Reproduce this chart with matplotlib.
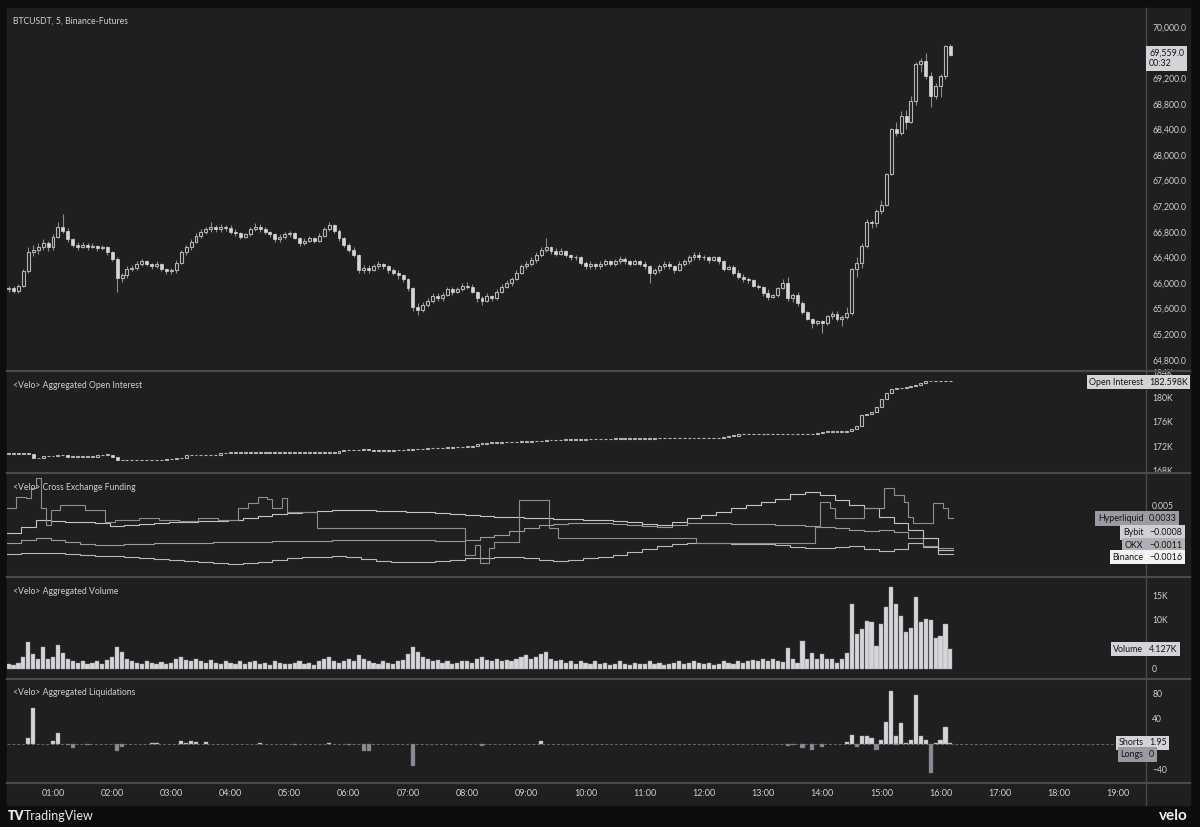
import matplotlib.pyplot as plt
import matplotlib.patches as mpatches
import numpy as np

# 5 minute bars, 00:15 -> 16:10
close = [65920, 65880, 65960, 66180, 66480, 66520, 66560, 66620, 66560,
         66720, 66880, 66820, 66680, 66600, 66560, 66600, 66560, 66580, 66540, 66560, 66480,
         66380, 66080, 66120, 66220, 66240, 66300, 66340, 66300, 66260, 66300, 66220, 66180,
         66200, 66320, 66480, 66560, 66640, 66740, 66800, 66840, 66880, 66840, 66880, 66860,
         66800, 66780, 66720, 66760, 66840, 66880, 66840, 66800, 66760, 66680, 66720, 66760,
         66780, 66700, 66620, 66660, 66700, 66660, 66740, 66840, 66900, 66820, 66700, 66600,
         66520, 66440, 66200, 66240, 66200, 66260, 66300, 66260, 66200, 66160, 66120, 66060,
         65920, 65620, 65580, 65660, 65720, 65800, 65760, 65820, 65900, 65860, 65900, 65960,
         65940, 65860, 65760, 65720, 65800, 65760, 65860, 65940, 66000, 66060, 66160, 66260,
         66300, 66360, 66440, 66520, 66560, 66500, 66460, 66500, 66440, 66400, 66400, 66320,
         66260, 66300, 66260, 66300, 66340, 66300, 66340, 66380, 66340, 66300, 66340, 66300,
         66260, 66160, 66200, 66260, 66300, 66260, 66200, 66300, 66340, 66400, 66440, 66400,
         66400, 66360, 66400, 66340, 66220, 66250, 66160, 66100, 66060, 66040, 65958, 65937,
         65840, 65780, 65810, 65920, 66000, 65765, 65810, 65690, 65540, 65440, 65375, 65400,
         65375, 65484, 65515, 65440, 65470, 65530, 66220, 66310, 66580, 66950, 66940, 67120,
         67220, 67700, 68400, 68340, 68610, 68520, 68840, 69420, 69470, 69230, 68920, 69080,
         69230, 69700, 69559]
high = [65960, 65960, 65980, 66220, 66560, 66600, 66620, 66680, 66660,
        66760, 66960, 67080, 66860, 66700, 66640, 66640, 66620, 66620, 66600, 66600, 66580,
        66500, 66400, 66160, 66260, 66280, 66340, 66380, 66360, 66320, 66340, 66320, 66240,
        66240, 66360, 66520, 66600, 66680, 66780, 66840, 66880, 66960, 66900, 66920, 66900,
        66900, 66840, 66800, 66780, 66880, 66940, 66920, 66880, 66820, 66780, 66760, 66800,
        66820, 66800, 66720, 66700, 66740, 66720, 66780, 66880, 66960, 66920, 66840, 66720,
        66620, 66560, 66460, 66280, 66280, 66300, 66340, 66320, 66280, 66240, 66200, 66140,
        66080, 65940, 65680, 65700, 65760, 65840, 65840, 65860, 65940, 65940, 65940, 66000,
        66020, 65980, 65880, 65800, 65840, 65820, 65900, 65980, 66040, 66100, 66200, 66300,
        66340, 66400, 66480, 66560, 66700, 66580, 66540, 66540, 66520, 66460, 66440, 66420,
        66340, 66340, 66320, 66340, 66380, 66360, 66380, 66420, 66400, 66360, 66380, 66360,
        66340, 66280, 66240, 66300, 66340, 66340, 66280, 66340, 66380, 66440, 66480, 66480,
        66440, 66420, 66420, 66420, 66360, 66280, 66280, 66200, 66140, 66100, 66060, 65980,
        65960, 65900, 65830, 65940, 66060, 66100, 65840, 65860, 65720, 65560, 65460, 65420,
        65420, 65500, 65560, 65560, 65500, 65620, 66240, 66400, 66620, 67000, 66990, 67160,
        67300, 67720, 68420, 68520, 68680, 68700, 68920, 69450, 69520, 69590, 69300, 69120,
        69260, 69720, 69730]
low = [65860, 65840, 65840, 65940, 66160, 66420, 66460, 66520, 66500,
       66520, 66700, 66780, 66640, 66560, 66520, 66540, 66520, 66540, 66500, 66520, 66440,
       66340, 65860, 66020, 66080, 66180, 66200, 66260, 66260, 66220, 66240, 66180, 66140,
       66140, 66160, 66300, 66440, 66520, 66620, 66700, 66760, 66800, 66800, 66800, 66820,
       66760, 66740, 66680, 66700, 66740, 66820, 66800, 66760, 66720, 66640, 66640, 66680,
       66720, 66680, 66580, 66600, 66640, 66620, 66640, 66720, 66820, 66780, 66660, 66560,
       66480, 66400, 66160, 66160, 66160, 66180, 66220, 66220, 66160, 66120, 66060, 66020,
       65880, 65560, 65500, 65540, 65620, 65680, 65720, 65720, 65800, 65820, 65840, 65880,
       65900, 65840, 65700, 65660, 65700, 65720, 65740, 65840, 65920, 65960, 66040, 66140,
       66220, 66260, 66320, 66400, 66480, 66460, 66420, 66440, 66400, 66360, 66360, 66280,
       66220, 66220, 66220, 66220, 66260, 66260, 66260, 66300, 66300, 66260, 66280, 66260,
       66220, 66000, 66120, 66160, 66220, 66220, 66160, 66180, 66260, 66300, 66360, 66360,
       66360, 66320, 66340, 66300, 66180, 66200, 66120, 66060, 66020, 66000, 65940, 65900,
       65800, 65740, 65760, 65780, 65900, 65720, 65700, 65640, 65520, 65420, 65300, 65340,
       65224, 65340, 65440, 65400, 65330, 65440, 65500, 66100, 66240, 66540, 66860, 66880,
       67080, 67200, 67680, 68300, 68320, 68400, 68500, 68780, 69300, 69180, 68750, 68880,
       68900, 69180, 69540]
first_open = 65900

# aggregated open interest (K)
oi_close = [170.7, 170.7, 170.75, 170.7, 170.7, 170.1, 170.0, 170.3, 170.3,
            170.4, 170.5, 170.5, 170.25, 170.25, 170.25, 170.25, 170.25, 170.25, 170.5, 170.6, 170.6,
            170.2, 169.7, 169.7, 169.7, 169.7, 169.7, 169.7, 169.7, 169.7, 169.7, 169.7, 169.8,
            169.9, 170.0, 170.0, 170.5, 170.5, 170.5, 170.5, 170.5, 170.5, 170.6, 170.8, 170.9,
            170.9, 170.9, 170.9, 170.9, 170.9, 170.9, 170.9, 170.9, 170.9, 170.9, 170.9, 170.9,
            170.9, 170.9, 170.9, 170.9, 170.9, 170.9, 170.9, 170.9, 170.9, 170.9, 171.2, 171.3,
            171.3, 171.3, 171.3, 171.5, 171.3, 171.25, 171.25, 171.25, 171.25, 171.3, 171.3, 171.4,
            171.4, 171.5, 171.5, 171.5, 171.6, 171.6, 171.6, 171.7, 171.7, 171.8, 171.8, 171.9,
            171.9, 172.0, 172.4, 172.4, 172.5, 172.5, 172.5, 172.6, 172.6, 172.6, 172.7, 172.7,
            172.7, 172.8, 172.8, 172.8, 172.9, 172.9, 172.9, 173.0, 173.0, 173.0, 173.0, 173.0,
            173.1, 173.1, 173.1, 173.1, 173.1, 173.15, 173.15, 173.15, 173.2, 173.2, 173.2, 173.2,
            173.2, 173.2, 173.25, 173.25, 173.25, 173.25, 173.25, 173.25, 173.25, 173.25, 173.25, 173.25,
            173.25, 173.25, 173.25, 173.25, 173.4, 173.7, 173.7, 173.9, 173.9, 173.9, 173.9, 173.9,
            173.9, 173.9, 173.9, 173.9, 173.9, 174.0, 173.9, 173.9, 173.9, 173.9, 173.9, 174.2,
            174.3, 174.3, 174.3, 174.3, 174.3, 174.5, 174.8, 175.3, 177.1, 177.3, 177.6, 178.4,
            179.7, 180.6, 181.3, 181.4, 181.5, 181.6, 181.8, 181.9, 182.3, 182.6, 182.598, 182.598,
            182.598, 182.598, 182.598]
oi_first_open = 170.7

# aggregated volume (K)
volume = [1.0, 0.8, 1.2, 2.5, 5.5, 3.0, 2.0, 4.5, 2.0,
          2.5, 4.8, 3.2, 2.0, 1.5, 1.2, 1.5, 1.0, 1.2, 1.5, 1.0, 1.8,
          2.5, 4.5, 3.5, 2.0, 1.5, 1.2, 1.0, 1.5, 1.2, 1.0, 1.3, 1.0,
          1.2, 2.0, 2.5, 1.8, 1.5, 2.0, 1.5, 1.2, 1.8, 1.2, 1.0, 1.5,
          1.2, 1.0, 1.5, 1.0, 1.3, 1.5, 1.0, 1.2, 0.8, 1.5, 1.2, 1.0,
          1.0, 1.2, 1.5, 1.0, 1.2, 0.8, 1.5, 2.0, 2.5, 1.5, 1.2, 1.5,
          2.0, 1.5, 2.8, 2.0, 1.5, 1.2, 1.0, 1.5, 1.2, 1.0, 1.5, 1.8,
          3.0, 4.5, 3.5, 2.5, 2.0, 1.5, 1.8, 1.2, 1.5, 1.0, 1.2, 1.5,
          1.5, 1.2, 2.0, 2.5, 1.8, 1.5, 2.0, 1.5, 1.8, 1.5, 2.0, 2.5,
          2.8, 2.0, 2.5, 3.0, 3.5, 2.0, 1.5, 1.8, 1.2, 1.5, 1.0, 1.5,
          1.2, 1.0, 1.5, 1.0, 1.2, 0.8, 1.0, 1.5, 1.0, 0.8, 1.2, 1.0,
          1.0, 1.5, 1.0, 1.2, 0.8, 1.0, 1.2, 1.5, 1.0, 1.2, 1.5, 1.2,
          1.0, 1.2, 0.8, 1.0, 1.5, 1.2, 1.0, 1.5, 1.2, 1.5, 1.8, 1.5,
          2.0, 1.5, 2.0, 1.5, 1.31, 4.3, 2.05, 1.23, 5.6, 2.05, 3.15, 2.05,
          3.1, 2.05, 1.9, 1.23, 2.05, 3.15, 13.2, 7.05, 8.07, 9.84, 9.57, 4.7,
          9.2, 12.7, 16.7, 13.2, 10.8, 7.6, 8.4, 14.6, 9.6, 10.1, 10.0, 6.2,
          6.6, 9.1, 4.127]

# aggregated liquidations
short_liq_times = ['00:35', '00:40', '01:00', '01:05', '02:40', '02:45', '03:10', '03:15', '03:20',
                   '03:25', '03:35', '04:30', '05:40', '09:15', '14:25', '14:30', '14:40', '14:45',
                   '14:50', '15:00', '15:05', '15:10', '15:15', '15:20', '15:25', '15:30', '15:35',
                   '15:40', '15:45', '15:55', '16:00', '16:05', '16:10']
short_liq = [9, 56, 4, 18, 1, 2, 5, 1, 5.5, 3, 2.5, 1, 2, 5, 2.5, 14, 12, 13,
             10, 7, 35, 84, 12, 33, 2, 7, 77, 13, 7, 1, 6, 27, 1.95]
long_liq_times = ['01:15', '01:20', '01:35', '02:05', '02:10', '05:05', '06:00', '06:15', '06:20',
                  '07:05', '08:15', '13:25', '13:30', '13:40', '13:50', '14:00', '14:35', '14:55',
                  '15:15', '15:50']
long_liq = [1, 6, 2, 10.6, 5, 1.5, 1.5, 11, 11, 34, 3, 3, 2, 7, 10, 4, 4, 10, 2, 46]

# cross exchange funding (units of 1e-4)
# hyperliquid: value changes (time, new value)
hl_times = ['00:10', '00:25', '00:35', '00:40', '00:45', '00:50', '00:55', '01:00', '01:10', '01:35',
            '01:55', '02:05', '02:30', '02:50', '03:10', '03:30', '03:50', '04:10', '04:20', '04:30',
            '04:40', '04:45', '04:55', '05:00', '05:30', '08:00', '08:10', '08:15', '08:25', '08:30',
            '08:55', '09:25', '09:35', '11:55', '13:55', '14:00', '14:10', '14:15', '14:45', '15:05',
            '15:15', '15:25', '15:30', '15:35', '15:55', '16:05', '16:10']
hl_vals = [47.0, 62.2, 60.9, 74.7, 88.5, 47.0, 23.5, 44.3, 51.2, 44.3,
           27.7, 30.4, 33.2, 30.4, 29.0, 33.2, 30.4, 47.0, 53.9, 62.2,
           59.5, 47.0, 60.9, 41.5, 19.4, -18.0, -4.1, -29.0, -8.3, 0.0,
           58.1, 19.4, 5.5, -1.4, 20.7, 55.3, 47.0, 33.2, 47.0, 74.7,
           65.0, 55.3, 34.6, 26.3, 53.9, 47.0, 33.0]
# the other venues: one value per 15 minutes from 00:15
okx_15m = [12.4, 20.7, 30.4, 29.0, 27.7, 27.7, 26.3, 22.1, 23.5, 24.9, 26.3, 27.7, 27.7, 29.0, 29.0, 30.4,
           33.2, 36.0, 38.7, 40.1, 41.5, 42.9, 44.3, 44.3, 44.3, 42.9, 42.9, 41.5, 41.5, 40.1, 38.7, 37.3,
           36.0, 34.6, 34.6, 33.2, 33.2, 31.8, 31.8, 30.4, 30.4, 29.0, 27.7, 24.9, 23.5, 27.7, 33.2, 37.3,
           41.5, 47.0, 51.2, 55.3, 59.5, 66.4, 69.2, 65.0, 58.1, 51.2, 47.0, 34.6, 26.3, 16.6, 5.5, -11.0]
bybit_15m = [-1.4, 2.8, 5.5, 2.8, 0.0, -2.8, -4.1, -4.1, -2.8, -2.8, -1.4, -1.4, -1.4, -1.4, 0.0, 0.0,
             0.0, 0.0, 1.4, 1.4, 1.4, 1.4, 2.8, 2.8, 2.8, 2.8, 2.8, 2.8, 2.8, 1.4, 1.4, 2.8,
             6.9, 9.7, 15.2, 19.4, 23.5, 24.9, 26.3, 26.3, 26.3, 24.9, 23.5, 22.1, 20.7, 23.5, 26.3, 26.3,
             26.3, 24.9, 24.9, 24.9, 23.5, 23.5, 22.1, 20.7, 19.4, 16.6, 15.2, 16.6, 13.8, 5.5, -5.5, -8.0]
binance_15m = [-16.6, -15.2, -15.2, -15.2, -16.6, -18.0, -19.4, -19.4, -20.7, -22.1, -23.5, -24.9, -26.3, -27.7, -29.0, -30.4,
               -29.0, -27.7, -24.9, -22.1, -20.7, -20.7, -19.4, -20.7, -23.5, -26.3, -27.7, -27.7, -27.7, -26.3, -24.9, -22.1,
               -22.1, -20.7, -20.7, -22.1, -24.9, -26.3, -24.9, -22.1, -20.7, -18.0, -13.8, -9.7, -5.5, -2.8, -1.4, -1.4,
               -1.4, -2.8, -2.8, -2.8, -4.1, -6.9, -8.3, -8.3, -6.9, -5.5, -9.7, -12.4, -9.7, -1.4, -6.9, -16.0]

price_ticks = [64800, 65200, 65600, 66000, 66400, 66800, 67200, 67600, 68000, 68400, 68800, 69200, 70000]
oi_ticks = [168, 172, 176, 180, 184]
funding_ticks = [0.005]
vol_ticks = [0, 10, 15]
liq_ticks = [-40, 40, 80]
hour_labels = ['01:00', '02:00', '03:00', '04:00', '05:00', '06:00', '07:00', '08:00', '09:00', '10:00',
               '11:00', '12:00', '13:00', '14:00', '15:00', '16:00', '17:00', '18:00', '19:00']

plt.rcParams['font.family'] = ['Lato', 'DejaVu Sans']

W, H = 1200, 827
BG = '#1f1f1f'
TXT = '#d0d0d0'
SEP = '#4a4a4a'
LIGHT = '#d6d6da'

fig = plt.figure(figsize=(12, 8.27), dpi=100)
fig.patch.set_facecolor('#0d0d0d')


def fx(px):
    return px / W


def fy(py):
    return 1 - py / H


def hm(s):
    return int(s[:2]) + int(s[3:]) / 60.0


frame = mpatches.Rectangle((fx(7), fy(805)), (1190 - 7) / W, (805 - 8) / H,
                           transform=fig.transFigure, color=BG, zorder=-10)
fig.add_artist(frame)

n = len(close)
t = 0.25 + np.arange(n) / 12.0
t_end = t[-1] + 1 / 24
xmin, xmax = 1 + (7 - 53) / 59.17, 1 + (1146 - 53) / 59.17


def panel(top, bottom, ylim, ticks, fmt):
    ax = fig.add_axes([fx(7), fy(bottom), (1146 - 7) / W, (bottom - top) / H])
    ax.set_facecolor('none')
    for s in ax.spines.values():
        s.set_visible(False)
    ax.set_xlim(xmin, xmax)
    ax.set_ylim(*ylim)
    ax.set_xticks([])
    ax.yaxis.tick_right()
    ax.set_yticks(ticks)
    ax.set_yticklabels([fmt(v) for v in ticks])
    ax.tick_params(axis='y', length=0, pad=4.5, labelsize=6.2, labelcolor=TXT)
    return ax


def candles(ax, o, h, l, c, w, min_h, up_col, down_col, wick_col):
    o = np.asarray(o, float)
    c = np.asarray(c, float)
    up = c >= o
    ax.vlines(t, l, h, color=wick_col, lw=0.8, zorder=2)
    lo = np.minimum(o, c)
    hh = np.maximum(np.abs(c - o), min_h)
    ax.bar(t[up], hh[up], w, bottom=lo[up], facecolor=BG, edgecolor=up_col, lw=0.8, zorder=3)
    ax.bar(t[~up], hh[~up], w, bottom=lo[~up], facecolor=down_col, edgecolor=down_col, lw=0.5, zorder=3)


# price panel
ax1 = panel(8, 370, (70000 - (370 - 27) * 15.625, 70000 + 19 * 15.625), price_ticks,
            lambda v: f'{v:,.1f}')
opens = [first_open] + close[:-1]
candles(ax1, opens, high, low, close, 0.05, 10, '#b4b4b4', LIGHT, '#8c8c8c')
ax1.text(0.005, 0.977, 'BTCUSDT, 5, Binance-Futures', transform=ax1.transAxes, fontsize=6.2,
         color=TXT, va='top')

# open interest panel
ax2 = panel(372, 472, (180 - 75 / 6.125, 180 + 25 / 6.125), oi_ticks, lambda v: f'{v:.0f}K')
oi_open = [oi_first_open] + oi_close[:-1]
oi_high = np.maximum(oi_open, oi_close)
oi_low = np.minimum(oi_open, oi_close)
candles(ax2, oi_open, oi_high, oi_low, oi_close, 0.05, 0.08, '#b4b4b4', LIGHT, '#8c8c8c')
ax2.text(0.005, 0.91, '<Velo> Aggregated Open Interest', transform=ax2.transAxes, fontsize=6.2,
         color=TXT, va='top')

# funding panel
ax3 = panel(474, 576, ((542 - 576) / 7230, (542 - 474) / 7230), funding_ticks, lambda v: f'{v:.3f}')
t15 = np.append(0.25 - 1 / 24 + np.arange(len(binance_15m)) / 4.0, t_end)
for vals, col in [(binance_15m, '#b8b8b8'), (bybit_15m, '#9a9a9a'), (okx_15m, '#c4c4c4')]:
    ax3.step(t15, np.array(list(vals) + [vals[-1]]) * 1e-4, where='post', color=col, lw=0.8)
thl = [hm(s) - 1 / 24 for s in hl_times] + [t_end]
ax3.step(thl, np.array(hl_vals + [hl_vals[-1]]) * 1e-4, where='post', color='#8e8e8e', lw=0.8)
ax3.text(0.005, 0.91, '<Velo> Cross Exchange Funding', transform=ax3.transAxes, fontsize=6.2,
         color=TXT, va='top')

# volume panel
ax4 = panel(578, 678, (-(678 - 668.7) / 4.88, (668.7 - 578) / 4.88), vol_ticks,
            lambda v: '0' if v == 0 else f'{v:.0f}K')
ax4.bar(t, volume, 0.07, color=LIGHT, edgecolor='#9a9aa0', lw=0.3)
ax4.text(0.005, 0.91, '<Velo> Aggregated Volume', transform=ax4.transAxes, fontsize=6.2,
         color=TXT, va='top')

# liquidation panel
ax5 = panel(680, 783, (-(783 - 744) / 0.634, (744 - 680) / 0.634), liq_ticks,
            lambda v: f'{v:.0f}'.replace('-', '\u2212'))
ax5.axhline(0, color='#6a6a6a', lw=0.7, ls=(0, (3, 2)), zorder=1)
ax5.bar([hm(s) for s in short_liq_times], short_liq, 0.07, color=LIGHT, edgecolor='#9a9aa0', lw=0.3, zorder=2)
ax5.bar([hm(s) for s in long_liq_times], [-v for v in long_liq], 0.07, color='#8c8c96',
        edgecolor='#6c6c74', lw=0.3, zorder=2)
ax5.text(0.005, 0.92, '<Velo> Aggregated Liquidations', transform=ax5.transAxes, fontsize=6.2,
         color=TXT, va='top')

# separators
for yy in [371, 473, 577, 679, 783]:
    fig.add_artist(plt.Line2D([fx(7), fx(1190)], [fy(yy), fy(yy)], color=SEP, lw=1.6))
fig.add_artist(plt.Line2D([fx(1146), fx(1146)], [fy(8), fy(805)], color=SEP, lw=1.0))

# time axis
for k, lab in enumerate(hour_labels):
    fig.text(fx(53 + k * 59.17), fy(794), lab, ha='center', va='center', fontsize=6.5, color=TXT)


def tag(ypx, label, value, bg_l, bg_v, fg='#141414'):
    if label:
        fig.text(fx(1143.5), fy(ypx), label, ha='right', va='center', fontsize=6.4, color=fg,
                 bbox=dict(boxstyle='square,pad=0.3', fc=bg_l, ec='none'), zorder=10)
    fig.text(fx(1149), fy(ypx), value, ha='left', va='center', fontsize=6.4, color=fg,
             bbox=dict(boxstyle='square,pad=0.3', fc=bg_v, ec='none'), zorder=10)


fig.text(fx(1149), fy(58.5), '69,559.0\n00:32', ha='left', va='center', fontsize=6.4, color='#141414',
         linespacing=1.15, bbox=dict(boxstyle='square,pad=0.35', fc='#d4d4d8', ec='none'), zorder=10)
tag(382, 'Open Interest', '182.598K', '#d4d4d8', '#d4d4d8')
tag(518.5, 'Hyperliquid', '0.0033', '#9a9aa2', '#9a9aa2')
tag(532.5, 'Bybit', '\u22120.0008', '#d0d0d4', '#d0d0d4')
tag(545, 'OKX', '\u22120.0011', '#b0b0b8', '#b0b0b8')
tag(557, 'Binance', '\u22120.0016', '#f2f2f2', '#f2f2f2')
tag(649, 'Volume', '4.127K', '#d4d4d8', '#d4d4d8')
tag(742.7, 'Shorts', '1.95', '#d4d4d8', '#d4d4d8')
tag(754.5, 'Longs', '0', '#9a9aa2', '#9a9aa2')

# branding
fig.text(fx(8), fy(816), 'TV', ha='left', va='center', fontsize=9, fontweight='heavy', color='#e8e8e8')
fig.text(fx(24), fy(816), 'TradingView', ha='left', va='center', fontsize=9, color='#e8e8e8')
fig.text(fx(1188), fy(816), 'velo', ha='right', va='center', fontsize=11, fontweight='bold', color='#f0f0f0')

fig.savefig('out.png', dpi=100, facecolor=fig.get_facecolor())
